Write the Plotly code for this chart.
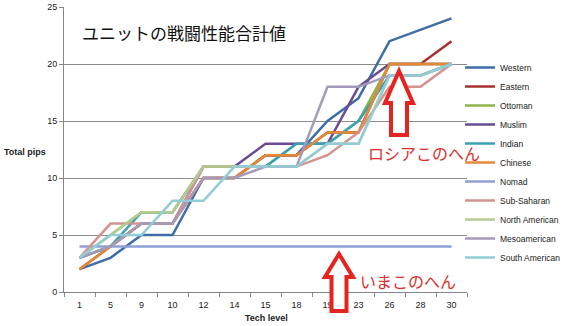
import plotly.graph_objects as go

# Tech levels (category axis) and total combat pips per civilization
tech_levels = ["1", "5", "9", "10", "12", "14", "15", "18", "19", "23", "26", "28", "30"]

western = [2, 3, 5, 5, 10, 10, 12, 12, 15, 17, 22, 23, 24]
eastern = [2, 4, 6, 6, 10, 10, 12, 12, 14, 14, 20, 20, 22]
ottoman = [3, 5, 7, 7, 11, 11, 11, 13, 13, 15, 20, 20, 20]
muslim = [3, 4, 6, 6, 11, 11, 13, 13, 13, 18, 20, 20, 20]
indian = [3, 4, 7, 7, 11, 11, 11, 13, 13, 15, 19, 19, 20]
chinese = [2, 4, 6, 6, 10, 10, 12, 12, 14, 14, 20, 20, 20]
nomad = [4, 4, 4, 4, 4, 4, 4, 4, 4, 4, 4, 4, 4]
sub_saharan = [3, 6, 6, 6, 11, 11, 11, 11, 12, 14, 18, 18, 20]
north_american = [3, 5, 7, 7, 11, 11, 11, 11, 13, 13, 19, 19, 20]
mesoamerican = [3, 4, 6, 6, 10, 10, 11, 11, 18, 18, 19, 19, 20]
south_american = [3, 5, 5, 8, 8, 11, 11, 11, 13, 13, 19, 19, 20]

series = [
    ("Western", western, "#3E6DA8"),
    ("Eastern", eastern, "#A8302E"),
    ("Ottoman", ottoman, "#8DB54A"),
    ("Muslim", muslim, "#6A4B94"),
    ("Indian", indian, "#3BA0B8"),
    ("Chinese", chinese, "#E58A32"),
    ("Nomad", nomad, "#8E9FD6"),
    ("Sub-Saharan", sub_saharan, "#D3938F"),
    ("North American", north_american, "#B5CC8E"),
    ("Mesoamerican", mesoamerican, "#A49BBB"),
    ("South American", south_american, "#92CCD6"),
]

W, H = 566, 326
L, R, T, B = 64, 467, 7, 292  # plot-area edges in pixels


def px(x, y):
    """Pixel position -> paper coordinates."""
    return (x - L) / (R - L), (B - y) / (B - T)


def arrow_path(tip_x, tip_y, head_half, head_base_y, shaft_half, bottom_y):
    pts = [
        (tip_x, tip_y),
        (tip_x + head_half, head_base_y),
        (tip_x + shaft_half, head_base_y),
        (tip_x + shaft_half, bottom_y),
        (tip_x - shaft_half, bottom_y),
        (tip_x - shaft_half, head_base_y),
        (tip_x - head_half, head_base_y),
    ]
    p = [px(a, b) for a, b in pts]
    return "M " + " L ".join(f"{a:.4f},{b:.4f}" for a, b in p) + " Z"


fig = go.Figure()
for name, vals, color in series:
    fig.add_trace(go.Scatter(
        x=tech_levels, y=vals, name=name, mode="lines",
        line=dict(color=color, width=2.5),
    ))

red = "#E5231F"
shapes = [
    dict(type="path", xref="paper", yref="paper",
         path=arrow_path(399, 71, 14, 103, 8, 135),
         line=dict(color=red, width=4), fillcolor="white", layer="above"),
    dict(type="path", xref="paper", yref="paper",
         path=arrow_path(339, 254, 14, 277, 7.5, 311),
         line=dict(color=red, width=4), fillcolor="white", layer="above"),
]

cjk = "Noto Sans CJK JP"
ax, ay = px(80, 33)
r1x, r1y = px(424, 153)
r2x, r2y = px(408, 281)
ylx, yly = px(25, 152)
xlx, xly = px(266, 318)

annotations = [
    dict(text="ユニットの戦闘性能合計値", x=ax, y=ay, xref="paper", yref="paper",
         xanchor="left", yanchor="middle", showarrow=False,
         font=dict(family=cjk, size=17, color="#111111")),
    dict(text="ロシアこのへん", x=r1x, y=r1y, xref="paper", yref="paper",
         xanchor="center", yanchor="middle", showarrow=False,
         font=dict(family=cjk, size=16, color="#D8302C")),
    dict(text="いまこのへん", x=r2x, y=r2y, xref="paper", yref="paper",
         xanchor="center", yanchor="middle", showarrow=False,
         font=dict(family=cjk, size=16, color="#D8302C")),
    dict(text="<b>Total pips</b>", x=ylx, y=yly, xref="paper", yref="paper",
         xanchor="center", yanchor="middle", showarrow=False,
         font=dict(family="Liberation Sans", size=9, color="#222222")),
    dict(text="<b>Tech level</b>", x=xlx, y=xly, xref="paper", yref="paper",
         xanchor="center", yanchor="middle", showarrow=False,
         font=dict(family="Liberation Sans", size=9, color="#222222")),
]

lgx, lgy = px(W, 53)

fig.update_layout(
    width=W, height=H,
    margin=dict(l=L, r=W - R, t=T, b=H - B, pad=0, autoexpand=False),
    paper_bgcolor="white", plot_bgcolor="white",
    font=dict(family="Liberation Sans", size=9, color="#222222"),
    showlegend=True,
    legend=dict(x=lgx, y=lgy, xanchor="right", yanchor="top",
                font=dict(size=8.5), tracegroupgap=0, itemwidth=30,
                bgcolor="rgba(0,0,0,0)"),
    xaxis=dict(type="category", range=[-0.5, len(tech_levels) - 0.5],
               showgrid=False, showline=True,
               linecolor="#868686", linewidth=1, ticks="outside",
               tickson="boundaries", ticklen=4, tickcolor="#868686",
               ticklabelstandoff=4, automargin=False,
               tickfont=dict(size=9), zeroline=False, fixedrange=True),
    yaxis=dict(range=[0, 25], dtick=5, showgrid=True, gridcolor="#8C8C8C",
               gridwidth=1, showline=True, linecolor="#868686", linewidth=1,
               ticks="outside", ticklen=4, tickcolor="#868686",
               automargin=False,
               tickfont=dict(size=9), zeroline=False, fixedrange=True),
    shapes=shapes,
    annotations=annotations,
)

fig.write_html("out.html")
